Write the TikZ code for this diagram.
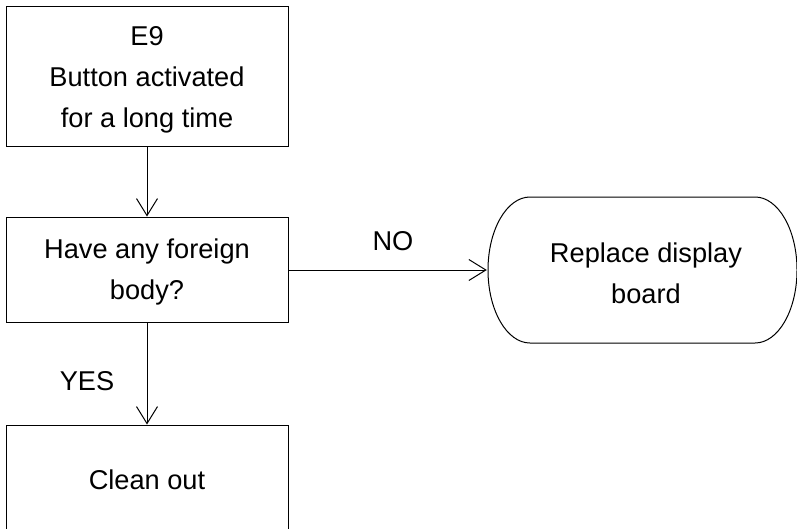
\documentclass[tikz,border=0pt]{standalone}
\usepackage{fontspec}
\setmainfont{Liberation Sans}
\usetikzlibrary{arrows.meta}
\begin{document}
\begin{tikzpicture}[x=1pt,y=-1pt,
  every node/.style={font=\fontsize{27.2}{41}\selectfont, align=center, inner sep=0pt},
  procbox/.style={draw, line width=1pt, minimum width=282pt},
  flow/.style={line width=1pt, -{Straight Barb[length=17pt,width=21pt,line width=1pt]}}]
\useasboundingbox (0,0) rectangle (797,528);
\node[procbox, minimum height=140pt] (b1) at (147,76) {};
\node (b1t) at (147,80) {E9\\Button activated\\for a long time};
\node[procbox, minimum height=105pt] (b2) at (147,269.5) {};
\node (b2t) at (147,272) {Have any foreign\\body?};
\node[procbox, minimum height=106pt] (b3) at (147,478) {};
\node (b3t) at (147,480) {Clean out};
\node[minimum width=310pt, minimum height=146pt] (term) at (642,270) {};
\node (termt) at (646,273) {Replace display\\board};
\draw[line width=1pt] (530,197) -- (755,197)
  arc[start angle=90, end angle=-90, x radius=42pt, y radius=73pt] -- (530,343)
  arc[start angle=270, end angle=90, x radius=42pt, y radius=73pt] -- cycle;
\draw[flow] (b1) -- (b2);
\draw[flow] (b2) -- (b3);
\node (yes) at (87,381) {YES};
\draw[flow] (b2.east |- term) -- (term.west);
\node (no) at (393,241) {NO};
\end{tikzpicture}
\end{document}
